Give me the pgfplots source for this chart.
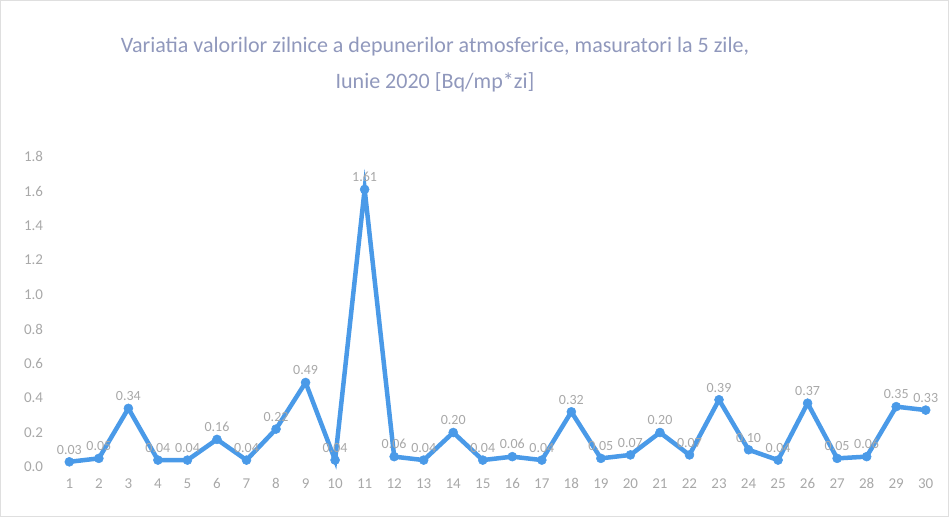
\documentclass[border=0pt]{standalone}
\usepackage{fontspec}
\setmainfont{Carlito}
\usepackage{pgfplots}
\pgfplotsset{compat=1.18}

\definecolor{serie}{HTML}{4A9AE8}
\definecolor{titlu}{HTML}{9098BC}
\definecolor{eticheta}{HTML}{A8A8A8}

\begin{document}
\begin{tikzpicture}[x=1pt,y=1pt]
  % chenarul diagramei
  \draw[gray!25, line width=1pt] (1,1) rectangle (948,516);
  \node[titlu, font=\fontsize{22}{27}\selectfont, align=center] at (435,452)
    {Variatia valorilor zilnice a depunerilor atmosferice, masuratori la 5 zile,\\[9pt]
     Iunie 2020 [Bq/mp*zi]};
  \begin{axis}[
    at={(55pt,50pt)}, anchor=south west,
    scale only axis,
    width=885pt, height=310pt,
    xmin=0.5, xmax=30.5,
    ymin=0, ymax=1.8,
    xtick={1,...,30},
    ytick={0,0.2,...,1.8},
    axis line style={draw=none},
    major tick length=0pt,
    tick label style={eticheta, font=\fontsize{15}{17}\selectfont},
    xticklabel style={yshift=-8pt},
    /pgf/number format/assume math mode=true,
    yticklabel style={/pgf/number format/fixed, /pgf/number format/fixed zerofill,
      /pgf/number format/precision=1, xshift=-8pt},
    nodes near coords,
    every node near coord/.append style={eticheta, font=\fontsize{14}{16}\selectfont,
      /pgf/number format/fixed, /pgf/number format/fixed zerofill,
      /pgf/number format/precision=2, yshift=4pt},
    clip=false,
  ]
  \addplot[serie, line width=4.5pt, mark=*, mark size=4.5pt,
    mark options={fill=serie, line width=0.5pt}] coordinates {
    (1,0.03) (2,0.05) (3,0.34) (4,0.04) (5,0.04)
    (6,0.16) (7,0.04) (8,0.22) (9,0.49) (10,0.04)
    (11,1.61) (12,0.06) (13,0.04) (14,0.20) (15,0.04)
    (16,0.06) (17,0.04) (18,0.32) (19,0.05) (20,0.07)
    (21,0.20) (22,0.07) (23,0.39) (24,0.10) (25,0.04)
    (26,0.37) (27,0.05) (28,0.06) (29,0.35) (30,0.33)
  };
  \end{axis}
\end{tikzpicture}
\end{document}
